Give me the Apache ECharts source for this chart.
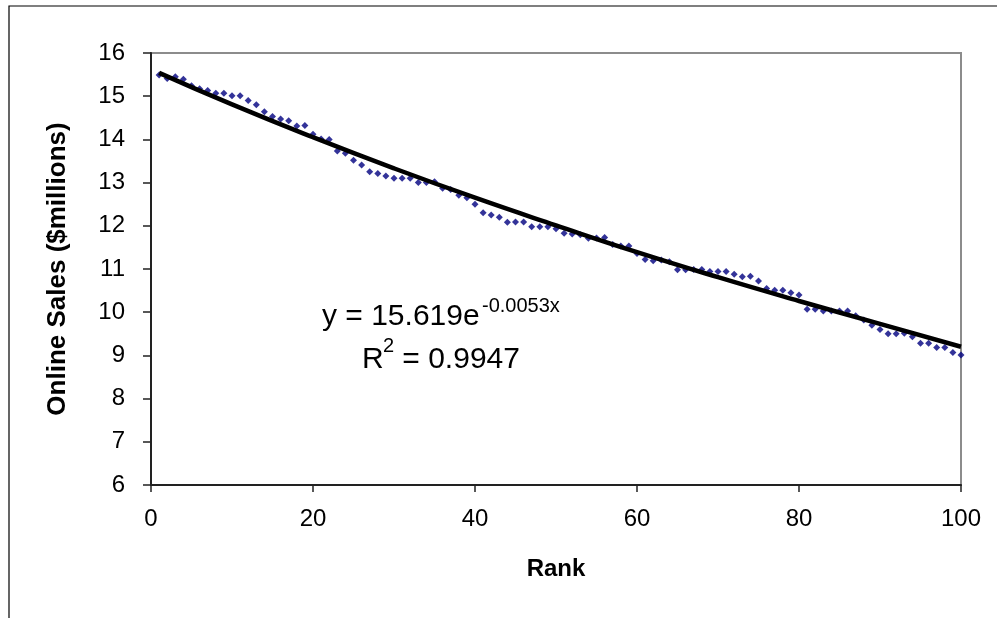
<!DOCTYPE html>
<html>
<head>
<meta charset="utf-8">
<title>Online Sales by Rank</title>
<script src="https://cdn.jsdelivr.net/npm/echarts@6/dist/echarts.min.js"></script>
<style>
  html, body { margin: 0; padding: 0; background: #fff; }
  #chart { width: 997px; height: 618px; }
</style>
</head>
<body>
<div id="chart"></div>
<script>
// sales of the top 100 sites, in rank order (rank 1 first)
const sales = [
  15.49, 15.41, 15.45, 15.39, 15.24, 15.17, 15.13, 15.07, 15.07, 15.01,
  15.01, 14.90, 14.80, 14.64, 14.53, 14.47, 14.43, 14.31, 14.32, 14.12,
  14.01, 14.00, 13.73, 13.68, 13.52, 13.41, 13.25, 13.21, 13.15, 13.10,
  13.10, 13.10, 13.00, 13.00, 13.02, 12.87, 12.84, 12.71, 12.65, 12.50,
  12.30, 12.25, 12.20, 12.08, 12.09, 12.09, 11.98, 11.98, 11.98, 11.93,
  11.83, 11.81, 11.79, 11.71, 11.72, 11.73, 11.57, 11.53, 11.53, 11.36,
  11.22, 11.19, 11.21, 11.17, 10.98, 10.98, 10.99, 10.99, 10.94, 10.94,
  10.94, 10.88, 10.82, 10.83, 10.72, 10.55, 10.51, 10.51, 10.45, 10.40,
  10.07, 10.07, 10.03, 10.03, 10.03, 10.03, 9.92, 9.82, 9.70, 9.60,
  9.50, 9.50, 9.51, 9.43, 9.28, 9.28, 9.18, 9.18, 9.07, 9.01
];

// exponential trendline at a few ranks
const trendRank = [1, 10, 20, 30, 40, 50, 60, 70, 80, 90, 100];
const trendValue = [15.54, 14.81, 14.05, 13.33, 12.65, 12.01, 11.39, 10.81, 10.26, 9.73, 9.20];

const xTicks = { min: 0, max: 100, step: 20 };
const yTicks = { min: 6, max: 16, step: 1 };

const eqMain = 'y = 15.619e';
const eqExp = '-0.0053x';
const r2Main = 'R';
const r2Sup = '2';
const r2Rest = ' = 0.9947';

const FONT = '"Liberation Sans", Arial, sans-serif';

const chart = echarts.init(document.getElementById('chart'));

const points = sales.map((v, i) => [i + 1, v]);
const trend = trendRank.map((r, i) => [r, trendValue[i]]);

const option = {
  animation: false,
  backgroundColor: '#fff',
  textStyle: { fontFamily: FONT },
  grid: {
    left: 151,
    right: 36,
    top: 53,
    bottom: 133,
    show: true,
    borderColor: '#8c8c8c',
    borderWidth: 2,
    backgroundColor: '#fff'
  },
  xAxis: {
    type: 'value',
    min: xTicks.min,
    max: xTicks.max,
    interval: xTicks.step,
    name: 'Rank',
    nameLocation: 'middle',
    nameGap: 72,
    nameTextStyle: { fontSize: 24, fontWeight: 'bold', color: '#000', fontFamily: FONT },
    axisLine: { lineStyle: { color: '#222', width: 2 } },
    axisTick: { show: true, inside: false, length: 7, lineStyle: { color: '#222', width: 1.5 } },
    axisLabel: { fontSize: 24, color: '#000', margin: 22, fontFamily: FONT },
    splitLine: { show: false }
  },
  yAxis: {
    type: 'value',
    min: yTicks.min,
    max: yTicks.max,
    interval: yTicks.step,
    name: 'Online Sales ($millions)',
    nameLocation: 'middle',
    nameGap: 80,
    nameTextStyle: { fontSize: 26, fontWeight: 'bold', color: '#000', fontFamily: FONT },
    axisLine: { show: true, lineStyle: { color: '#222', width: 2 } },
    axisTick: { show: true, inside: false, length: 8, lineStyle: { color: '#222', width: 1.5 } },
    axisLabel: { fontSize: 24, color: '#000', margin: 26, fontFamily: FONT },
    splitLine: { show: false }
  },
  series: [
    {
      type: 'scatter',
      data: points,
      symbol: 'diamond',
      symbolSize: 7,
      itemStyle: { color: '#000080' },
      z: 2
    },
    {
      type: 'line',
      data: trend,
      smooth: true,
      showSymbol: false,
      symbol: 'none',
      lineStyle: { color: '#000', width: 4.5 },
      z: 3
    }
  ],
  graphic: [
    {
      type: 'rect',
      shape: { x: 9, y: 6, width: 1200, height: 800 },
      style: { fill: 'none', stroke: '#000', lineWidth: 1.2 },
      silent: true
    },
    {
      type: 'text', left: 322, top: 302,
      style: { text: eqMain, font: '30px ' + FONT, fill: '#000' }
    },
    {
      type: 'text', left: 482, top: 296,
      style: { text: eqExp, font: '20px ' + FONT, fill: '#000' }
    },
    {
      type: 'text', left: 362, top: 345,
      style: { text: r2Main, font: '30px ' + FONT, fill: '#000' }
    },
    {
      type: 'text', left: 383, top: 336,
      style: { text: r2Sup, font: '20px ' + FONT, fill: '#000' }
    },
    {
      type: 'text', left: 394, top: 345,
      style: { text: r2Rest, font: '30px ' + FONT, fill: '#000' }
    }
  ]
};

chart.setOption(option);
</script>
</body>
</html>
